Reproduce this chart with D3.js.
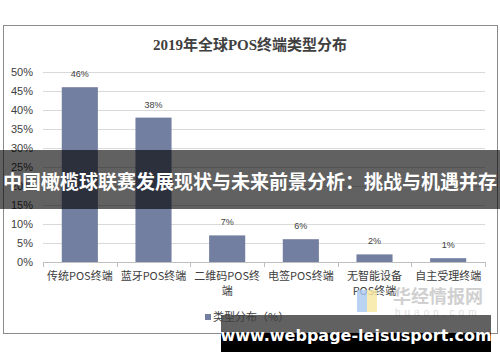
<!DOCTYPE html>
<html>
<head>
<meta charset="utf-8">
<script src="https://d3js.org/d3.v7.min.js"></script>
<style>
  body { margin: 0; background: #fff; }
  svg { display: block; }
</style>
</head>
<body>
<div id="chart"></div>
<script>
    var categories = ["传统POS终端", "蓝牙POS终端", "二维码POS终端", "电签POS终端", "无智能设备POS终端", "自主受理终端"];
    var labelLines = [["传统POS终端"], ["蓝牙POS终端"], ["二维码POS终", "端"], ["电签POS终端"], ["无智能设备", "POS终端"], ["自主受理终端"]];
    var shares = [46, 38, 7, 6, 2, 1];
    var yTicks = [0, 5, 10, 15, 20, 25, 30, 35, 40, 45, 50];

    var width = 500, height = 362;
    var svg = d3.select("#chart").append("svg")
        .attr("width", width)
        .attr("height", height);

    // outer frame
    svg.append("rect")
        .attr("x", 3.5).attr("y", 25.5)
        .attr("width", 494).attr("height", 308)
        .attr("fill", "#fff")
        .attr("stroke", "#8c8c8c")
        .attr("stroke-width", 1);

    svg.append("text")
        .attr("x", 250).attr("y", 50)
        .attr("text-anchor", "middle")
        .style("font-family", "'Liberation Serif', 'Noto Sans CJK SC', serif")
        .style("font-size", "15px")
        .style("font-weight", "bold")
        .attr("fill", "#404040")
        .text("2019年全球POS终端类型分布");

    var x = d3.scaleBand().domain(categories).range([43, 485]).paddingInner(0.51).paddingOuter(0.255);
    var y = d3.scaleLinear().domain([0, 50]).range([262, 72]);

    // gridlines
    svg.append("g").selectAll("line")
        .data(yTicks.filter(d => d > 0))
        .enter().append("line")
        .attr("x1", 43).attr("x2", 485)
        .attr("y1", d => Math.round(y(d)) + 0.5)
        .attr("y2", d => Math.round(y(d)) + 0.5)
        .attr("stroke", "#d9d9d9");

    // y labels
    svg.append("g").selectAll("text")
        .data(yTicks)
        .enter().append("text")
        .attr("x", 33).attr("y", d => y(d) + 4)
        .attr("text-anchor", "end")
        .style("font-family", "'Liberation Sans', Arial, sans-serif")
        .style("font-size", "11px")
        .attr("fill", "#404040")
        .text(d => d + "%");

    // bars
    svg.append("g").selectAll("rect")
        .data(shares)
        .enter().append("rect")
        .attr("x", (d, i) => x(categories[i]))
        .attr("y", d => y(d))
        .attr("width", x.bandwidth())
        .attr("height", d => y(0) - y(d))
        .attr("fill", "#737fa0");

    // value labels
    svg.append("g").selectAll("text")
        .data(shares)
        .enter().append("text")
        .attr("x", (d, i) => x(categories[i]) + x.bandwidth() / 2)
        .attr("y", d => y(d) - 10)
        .attr("text-anchor", "middle")
        .style("font-family", "'Liberation Sans', Arial, sans-serif")
        .style("font-size", "9px")
        .attr("fill", "#404040")
        .text(d => d + "%");

    // x axis
    var step = (485 - 43) / categories.length;
    svg.append("line")
        .attr("x1", 43).attr("x2", 485)
        .attr("y1", 262.5).attr("y2", 262.5)
        .attr("stroke", "#bfbfbf");
    svg.append("g").selectAll("line")
        .data(d3.range(categories.length + 1))
        .enter().append("line")
        .attr("x1", i => Math.round(43 + i * step) + 0.5)
        .attr("x2", i => Math.round(43 + i * step) + 0.5)
        .attr("y1", 262).attr("y2", 267)
        .attr("stroke", "#bfbfbf");

    var cat = svg.append("g").selectAll("text")
        .data(labelLines)
        .enter().append("text")
        .attr("text-anchor", "middle")
        .style("font-family", "'Noto Sans CJK SC', sans-serif")
        .style("font-size", "11px")
        .attr("fill", "#404040");
    cat.each(function (lines, i) {
        d3.select(this).selectAll("tspan")
            .data(lines)
            .enter().append("tspan")
            .attr("x", x(categories[i]) + x.bandwidth() / 2)
            .attr("y", (d, j) => 280 + j * 15)
            .text(d => d);
    });

    // watermark logo huaon
    svg.append("rect").attr("x", 357).attr("y", 290).attr("width", 10).attr("height", 22).attr("fill", "#a9c8f0").attr("opacity", 0.8);
    svg.append("rect").attr("x", 367).attr("y", 290).attr("width", 10).attr("height", 22).attr("fill", "#f7e7a0").attr("opacity", 0.8);
    svg.append("text").attr("x", 393).attr("y", 303)
        .style("font-family", "'Noto Sans CJK SC', sans-serif")
        .style("font-size", "18px").style("font-weight", "bold")
        .attr("fill", "#d0d0d0").text("华经情报网");
    svg.append("text").attr("x", 395).attr("y", 316)
        .style("font-family", "'Liberation Sans', sans-serif")
        .style("font-size", "10px").style("letter-spacing", "4px")
        .attr("fill", "#e0e0e0").text("huaon.com");

    // overlay banner
    svg.append("rect").attr("x", 0).attr("y", 150).attr("width", 500).attr("height", 59)
        .attr("fill", "#000").attr("opacity", 0.62);
    svg.append("text").attr("x", 250).attr("y", 189)
        .attr("text-anchor", "middle")
        .style("font-family", "'Noto Sans CJK SC', sans-serif")
        .style("font-size", "19px").style("font-weight", "bold")
        .attr("fill", "#fff")
        .text("中国橄榄球联赛发展现状与未来前景分析：挑战与机遇并存");

    // bottom url box
    svg.append("rect").attr("x", 221).attr("y", 333).attr("width", 270).attr("height", 19)
        .attr("fill", "#000");
    svg.append("rect").attr("x", 221).attr("y", 315).attr("width", 270).attr("height", 18)
        .attr("fill", "#000").attr("opacity", 0.62);

    // legend
    svg.append("rect").attr("x", 205).attr("y", 314).attr("width", 6).attr("height", 6).attr("fill", "#737fa0");
    svg.append("text").attr("x", 213).attr("y", 321)
        .style("font-family", "'Noto Sans CJK SC', sans-serif")
        .style("font-size", "11px")
        .attr("fill", "#404040")
        .text("类型分布（%）");

    svg.append("text").attr("x", 356).attr("y", 341)
        .attr("text-anchor", "middle")
        .style("font-family", "'DejaVu Sans', sans-serif")
        .style("font-size", "16px").style("font-weight", "bold")
        .attr("fill", "#fff")
        .text("www.webpage-leisusport.com");
</script>
</body>
</html>
